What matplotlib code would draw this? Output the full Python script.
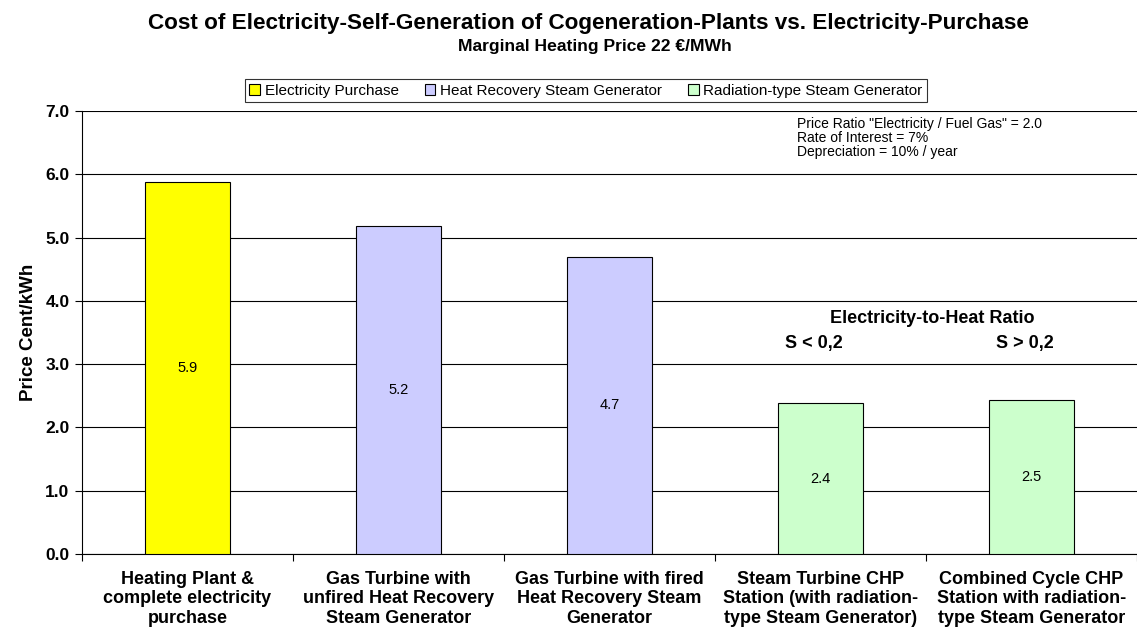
import matplotlib
matplotlib.use("Agg")
import matplotlib.pyplot as plt
from matplotlib.patches import Patch

plt.rcParams['font.family'] = ['Liberation Sans', 'DejaVu Sans']

categories = ["Heating Plant &\ncomplete electricity\npurchase",
              "Gas Turbine with\nunfired Heat Recovery\nSteam Generator",
              "Gas Turbine with fired\nHeat Recovery Steam\nGenerator",
              "Steam Turbine CHP\nStation (with radiation-\ntype Steam Generator)",
              "Combined Cycle CHP\nStation with radiation-\ntype Steam Generator"]
values = [5.88, 5.19, 4.70, 2.38, 2.44]
value_labels = ["5.9", "5.2", "4.7", "2.4", "2.5"]
groups = [0, 1, 1, 2, 2]
group_names = ["Electricity Purchase", "Heat Recovery Steam Generator", "Radiation-type Steam Generator"]
group_colors = ["#FFFF00", "#CCCCFF", "#CCFFCC"]
yticks = [0.0, 1.0, 2.0, 3.0, 4.0, 5.0, 6.0, 7.0]

W, H = 1137, 628
fig = plt.figure(figsize=(W/100, H/100), dpi=100)
left, right, top, bottom = 82, 1137, 111, 554
ax = fig.add_axes([left/W, 1 - bottom/H, (right-left)/W, (bottom-top)/H])

x = list(range(len(categories)))
ax.bar(x, values, width=0.4, color=[group_colors[g] for g in groups],
       edgecolor="black", linewidth=0.8, zorder=3)
for xi, v, lab in zip(x, values, value_labels):
    ax.text(xi, v/2, lab, ha="center", va="center", fontsize=10.5, zorder=4)

ax.set_xlim(-0.5, len(categories) - 0.5)
ax.set_ylim(0, 7.0)
ax.set_yticks(yticks)
ax.set_yticklabels([f"{t:.1f}" for t in yticks], fontsize=12.5, fontweight="bold")
ax.yaxis.grid(True, color="black", linewidth=0.8, zorder=0)
ax.set_axisbelow(True)
ax.tick_params(axis="y", direction="out", length=5, width=0.8, pad=4)
ax.set_xticks([i - 0.5 for i in range(len(categories) + 1)], minor=False)
ax.set_xticklabels([""] * (len(categories) + 1))
ax.tick_params(axis="x", direction="out", length=5, width=0.8)
for xi, c in zip(x, categories):
    ax.annotate(c, xy=(xi, 0), xycoords="data", xytext=(0, -12), textcoords="offset points",
                ha="center", va="top", fontsize=13, fontweight="bold",
                linespacing=1.2, annotation_clip=False)
for s in ["top", "right"]:
    ax.spines[s].set_visible(False)
ax.spines["left"].set_linewidth(0.8)
ax.spines["bottom"].set_linewidth(0.8)

ax.set_ylabel("Price Cent/kWh", fontsize=13.5, fontweight="bold", labelpad=6)

fig.text(588/W, 1 - 24/H, "Cost of Electricity-Self-Generation of Cogeneration-Plants vs. Electricity-Purchase",
         ha="center", va="center", fontsize=16.2, fontweight="bold")
fig.text(595/W, 1 - 47/H, "Marginal Heating Price 22 €/MWh",
         ha="center", va="center", fontsize=12.6, fontweight="bold")

handles = [Patch(facecolor=c, edgecolor="black", linewidth=0.8) for c in group_colors]
leg = fig.legend(handles, group_names, loc="center", bbox_to_anchor=(586/W, 1 - 90.5/H),
                 ncol=3, fontsize=11, frameon=True, fancybox=False, edgecolor="black",
                 handlelength=0.7, handleheight=0.7, handletextpad=0.3, columnspacing=1.7,
                 borderpad=0.3)
leg.get_frame().set_linewidth(0.8)

fig.text(797/W, 1 - 138/H, 'Price Ratio "Electricity / Fuel Gas" = 2.0\nRate of Interest = 7%\nDepreciation = 10% / year',
         ha="left", va="center", fontsize=10, linespacing=1.0)

ax.text(3.53, 3.72, "Electricity-to-Heat Ratio", ha="center", va="center", fontsize=13, fontweight="bold")
ax.text(2.97, 3.33, "S < 0,2", ha="center", va="center", fontsize=13, fontweight="bold")
ax.text(3.97, 3.33, "S > 0,2", ha="center", va="center", fontsize=13, fontweight="bold")

fig.savefig("out.png", dpi=100)
